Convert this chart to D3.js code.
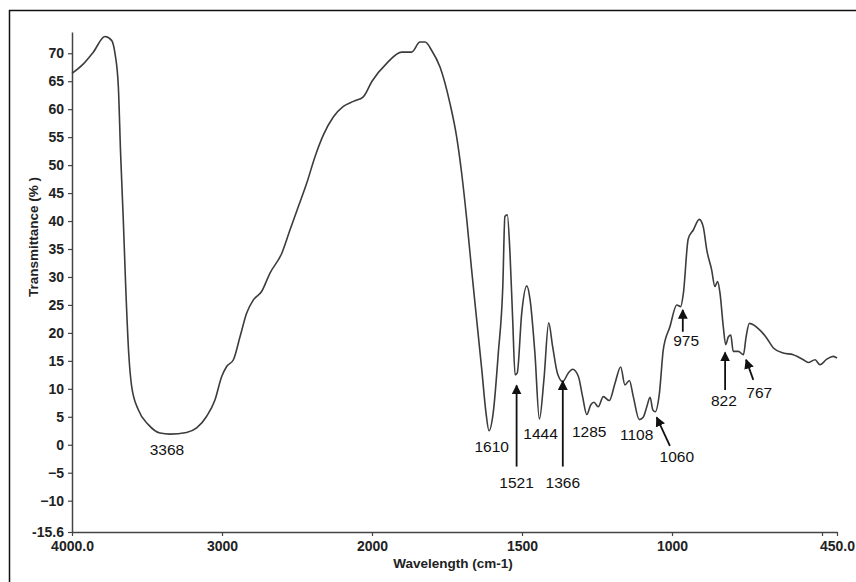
<!DOCTYPE html>
<html>
<head>
<meta charset="utf-8">
<script src="https://cdn.jsdelivr.net/npm/d3@7"></script>
<style>
  body { margin: 0; background: #fff; }
  svg { display: block; font-family: "Liberation Sans", Arial, sans-serif; }
</style>
</head>
<body>
<svg id="chart" width="856" height="582"></svg>
<script>
// FTIR spectrum (cm-1, % T)
const wavenumber = [
  4000, 3924, 3858, 3780, 3736, 3713, 3691, 3676, 3658, 3642, 3622, 3602, 3558, 3491,
  3413, 3347, 3236, 3169, 3102, 3047, 3002, 2969, 2924, 2880, 2836, 2791, 2736, 2680,
  2602, 2547, 2491, 2436, 2380, 2324, 2258, 2191, 2124, 2058, 2000, 1951, 1901, 1868,
  1840, 1823, 1801, 1773, 1740, 1718, 1701, 1684, 1668, 1651, 1634, 1620, 1610, 1596,
  1579, 1564, 1557, 1549, 1540, 1531, 1523, 1516, 1501, 1484, 1473, 1457, 1442, 1427,
  1411, 1398, 1382, 1364, 1346, 1331, 1312, 1298, 1284, 1271, 1260, 1246, 1229, 1209,
  1190, 1171, 1157, 1142, 1129, 1109, 1096, 1084, 1073, 1064, 1056, 1042, 1029, 1007,
  984, 971, 962, 946, 929, 909, 896, 884, 868, 857, 848, 840, 829, 821, 812, 804, 796,
  779, 762, 753, 742, 707, 684, 662, 629, 596, 562, 546, 523, 507, 484, 462, 450
];
const transmittance = [
  66.4, 68.1, 70.2, 73.0, 72.3, 69.9, 64.0, 52.1, 40.2, 28.3, 16.4, 10.4, 6.25, 3.6,
  2.1, 1.9, 2.2, 3.0, 5.1, 8.0, 12.2, 14.0, 15.2, 19.3, 23.5, 25.9, 27.4, 30.7,
  34.2, 38.4, 42.6, 46.7, 51.5, 55.4, 58.6, 60.5, 61.4, 62.2, 65.0, 68.2, 70.2, 70.2,
  72.0, 72.0, 70.5, 67.5, 61.0, 55.1, 48.5, 40.2, 31.3, 22.3, 13.4, 5.7, 2.5, 5.7,
  16.4, 28.3, 40.8, 41.1, 34.2, 22.3, 12.5, 12.8, 23.5, 28.4, 25.9, 16.4, 4.6, 11.6,
  21.8, 17.6, 12.8, 11.3, 12.8, 13.5, 12.2, 8.6, 5.4, 7.1, 7.6, 6.8, 8.6, 7.9,
  11.0, 13.9, 10.7, 11.5, 8.6, 4.5, 4.9, 6.8, 8.5, 6.25, 5.9, 9.2, 17.0, 21.1,
  25.0, 24.7, 27.1, 36.8, 38.4, 40.3, 39.0, 34.8, 31.3, 28.3, 29.2, 27.1, 21.1, 17.9, 19.3, 19.6, 16.7,
  16.7, 16.1, 19.3, 21.7, 20.5, 19.05, 17.3, 16.4, 16.1, 15.2, 14.7, 15.2, 14.3, 15.3, 15.8, 15.5
];

// axis ticks
const xTicks = [4000, 3000, 2000, 1500, 1000, 500, 450];
const xTickLabels = ["4000.0", "3000", "2000", "1500", "1000", "", "450.0"];
const yTicks = [-15.6, -10, -5, 0, 5, 10, 15, 20, 25, 30, 35, 40, 45, 50, 55, 60, 65, 70];

// peak labels (text, label wn, label %T)
const peakNames = ["3368", "1610", "1521", "1444", "1366", "1285", "1108", "1060", "975", "822", "767"];
const peakLabelWn = [3367, 1601, 1518, 1438, 1364, 1276, 1118, 984, 953, 827, 709];
const peakLabelT = [-0.9, -0.3, -6.7, 2.1, -6.7, 2.4, 1.8, -2.1, 18.7, 8.0, 9.3];
// arrows: [from wn, from %T, to wn, to %T]
const peakArrows = [
  null, null,
  [1518, -3.9, 1518, 10.6],
  null,
  [1364, -3.9, 1364, 11.4],
  null, null,
  [1007, -0.2, 1051, 4.9],
  [964, 20.2, 964, 24.1],
  [823, 9.8, 823, 16.5],
  [729, 11.6, 753, 15.2]
];

const svg = d3.select("#chart");

// frame around the figure (runs off right/bottom edge)
svg.append("rect")
  .attr("x", 9.5).attr("y", 10.5)
  .attr("width", 900).attr("height", 600)
  .attr("fill", "none").attr("stroke", "#111").attr("stroke-width", 1.5);

// split x scale: 2000 cm-1 expansion like the instrument plot
const x = d3.scaleLinear().domain([4000, 2000, 450]).range([72, 372, 837]);
const y = d3.scaleLinear().domain([-15.6, 73.8]).range([532, 32]);

const xAxis = svg.append("g")
  .attr("transform", `translate(0,${y(-15.6)})`)
  .call(d3.axisBottom(x).tickValues(xTicks).tickSize(4).tickSizeOuter(0)
    .tickFormat((d, i) => xTickLabels[i]));

const yAxis = svg.append("g")
  .attr("transform", `translate(${x(4000)},0)`)
  .call(d3.axisLeft(y).tickValues(yTicks).tickSize(4).tickSizeOuter(0)
    .tickFormat(d => d === -15.6 ? "-15.6" : d3.format("d")(d)));

[xAxis, yAxis].forEach(g => {
  g.select(".domain").attr("stroke", "#444").attr("stroke-width", 1.5);
  g.selectAll(".tick line").attr("stroke", "#444").attr("stroke-width", 1.2);
  g.selectAll("text")
    .attr("fill", "#222")
    .attr("font-size", 14)
    .attr("font-weight", "bold");
});
xAxis.selectAll("text").attr("dy", "0.85em");
yAxis.selectAll("text").attr("dx", "-1px");

// axis titles
svg.append("text")
  .attr("x", 453).attr("y", 568)
  .attr("text-anchor", "middle")
  .attr("font-size", 13.5).attr("font-weight", "bold").attr("fill", "#222")
  .text("Wavelength (cm-1)");

svg.append("text")
  .attr("transform", "translate(38,237) rotate(-90)")
  .attr("text-anchor", "middle")
  .attr("font-size", 13.5).attr("font-weight", "bold").attr("fill", "#222")
  .text("Transmittance (% )");

// spectrum
const spectrum = wavenumber.map((w, i) => ({ w, t: transmittance[i] }));
svg.append("path")
  .datum(spectrum)
  .attr("fill", "none")
  .attr("stroke", "#3c3c3c")
  .attr("stroke-width", 1.6)
  .attr("stroke-linejoin", "round")
  .attr("d", d3.line().x(d => x(d.w)).y(d => y(d.t)).curve(d3.curveMonotoneX));

// arrowhead
svg.append("defs").append("marker")
  .attr("id", "head")
  .attr("viewBox", "0 0 10 10")
  .attr("refX", 9).attr("refY", 5)
  .attr("markerWidth", 5.5).attr("markerHeight", 6)
  .attr("markerUnits", "strokeWidth")
  .attr("orient", "auto")
  .append("path").attr("d", "M0,0 L10,5 L0,10 Z").attr("fill", "#111");

const peaks = peakNames.map((name, i) => ({
  name, lw: peakLabelWn[i], lt: peakLabelT[i], arrow: peakArrows[i]
}));

svg.append("g").selectAll("line")
  .data(peaks.filter(p => p.arrow))
  .join("line")
  .attr("x1", p => x(p.arrow[0])).attr("y1", p => y(p.arrow[1]))
  .attr("x2", p => x(p.arrow[2])).attr("y2", p => y(p.arrow[3]))
  .attr("stroke", "#111").attr("stroke-width", 1.8)
  .attr("marker-end", "url(#head)");

svg.append("g").selectAll("text")
  .data(peaks)
  .join("text")
  .attr("x", p => x(p.lw)).attr("y", p => y(p.lt))
  .attr("text-anchor", "middle")
  .attr("dominant-baseline", "central")
  .attr("font-size", 15.5)
  .attr("fill", "#111")
  .text(p => p.name);
</script>
</body>
</html>
